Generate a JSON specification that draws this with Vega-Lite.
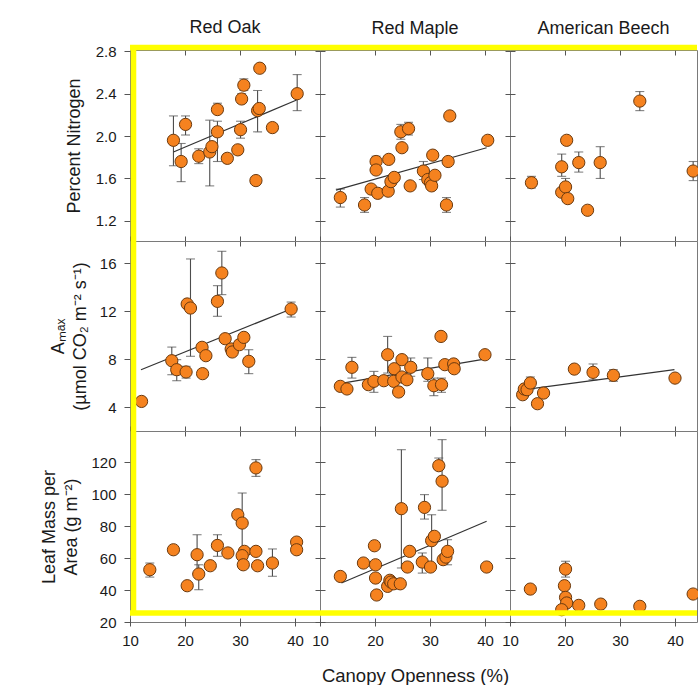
{
  "$schema": "https://vega.github.io/schema/vega-lite/v6.json",
  "background": "white",
  "padding": {"left": 40, "top": 18, "right": 0, "bottom": 0},
  "bounds": "flush",
  "align": "each",
  "spacing": 0,
  "columns": 3,
  "config": {
    "font": "Liberation Sans",
    "view": {"stroke": "#7a7a7a", "strokeWidth": 1, "fill": null},
    "axis": {"domain": false, "grid": false, "tickColor": "#555", "tickWidth": 1, "tickCount": 12, "labelFont": "Liberation Sans", "labelFontSize": 15, "labelColor": "#1a1a1a", "titleFont": "Liberation Sans", "titleFontSize": 18, "titleFontWeight": "normal", "titleColor": "#1a1a1a", "labelOverlap": false, "labelBound": false, "titleLineHeight": 22},
    "title": {"font": "Liberation Sans", "fontSize": 18, "fontWeight": "normal", "color": "#1a1a1a", "offset": 7, "anchor": "middle"}
  },
  "datasets": {
    "oakN": [
      {"x": 17.9, "y": 1.96, "lo": 1.72, "hi": 2.19},
      {"x": 20.1, "y": 2.11, "lo": 2.01, "hi": 2.19},
      {"x": 19.3, "y": 1.76, "lo": 1.57, "hi": 1.93},
      {"x": 22.5, "y": 1.81, "lo": 1.74, "hi": 1.88},
      {"x": 24.5, "y": 1.85, "lo": 1.53, "hi": 2.15},
      {"x": 24.9, "y": 1.9},
      {"x": 25.9, "y": 2.25, "lo": 2.22, "hi": 2.31},
      {"x": 25.9, "y": 2.04, "lo": 1.76, "hi": 2.14},
      {"x": 27.7, "y": 1.79, "lo": 1.75, "hi": 1.83},
      {"x": 29.6, "y": 1.87, "lo": 1.83, "hi": 1.91},
      {"x": 30.1, "y": 2.06, "lo": 1.98, "hi": 2.14},
      {"x": 30.3, "y": 2.35, "lo": 2.31, "hi": 2.4},
      {"x": 30.7, "y": 2.48, "lo": 2.43, "hi": 2.54},
      {"x": 32.9, "y": 1.58},
      {"x": 33.2, "y": 2.24, "lo": 2.04, "hi": 2.43},
      {"x": 33.5, "y": 2.26},
      {"x": 33.6, "y": 2.64, "lo": 2.61, "hi": 2.67},
      {"x": 35.9, "y": 2.08},
      {"x": 40.4, "y": 2.4, "lo": 2.24, "hi": 2.58}
    ],
    "mapleN": [
      {"x": 13.7, "y": 1.42, "lo": 1.33, "hi": 1.5},
      {"x": 18.1, "y": 1.35, "lo": 1.28, "hi": 1.42},
      {"x": 19.3, "y": 1.5},
      {"x": 20.2, "y": 1.76, "lo": 1.73, "hi": 1.81},
      {"x": 20.2, "y": 1.68},
      {"x": 20.5, "y": 1.46},
      {"x": 22.4, "y": 1.48},
      {"x": 22.5, "y": 1.78},
      {"x": 22.9, "y": 1.57},
      {"x": 23.5, "y": 1.61},
      {"x": 24.7, "y": 2.04, "lo": 1.97, "hi": 2.11},
      {"x": 24.9, "y": 1.89},
      {"x": 26.1, "y": 2.07, "lo": 2.01, "hi": 2.13},
      {"x": 26.4, "y": 1.53},
      {"x": 28.8, "y": 1.67, "lo": 1.59, "hi": 1.76},
      {"x": 29.6, "y": 1.59},
      {"x": 30.1, "y": 1.56},
      {"x": 30.3, "y": 1.53},
      {"x": 30.5, "y": 1.82},
      {"x": 30.9, "y": 1.63},
      {"x": 33.0, "y": 1.35, "lo": 1.28, "hi": 1.42},
      {"x": 33.3, "y": 1.76},
      {"x": 33.6, "y": 2.19},
      {"x": 40.5, "y": 1.96}
    ],
    "beechN": [
      {"x": 13.9, "y": 1.56, "lo": 1.51, "hi": 1.62},
      {"x": 19.4, "y": 1.71, "lo": 1.62, "hi": 1.83},
      {"x": 20.3, "y": 1.96},
      {"x": 19.4, "y": 1.47},
      {"x": 20.1, "y": 1.52, "lo": 1.44, "hi": 1.6},
      {"x": 20.5, "y": 1.41},
      {"x": 22.5, "y": 1.75, "lo": 1.66, "hi": 1.85},
      {"x": 24.1, "y": 1.3},
      {"x": 26.4, "y": 1.75, "lo": 1.6, "hi": 1.9},
      {"x": 33.6, "y": 2.33, "lo": 2.24, "hi": 2.42},
      {"x": 43.3, "y": 1.67, "lo": 1.58, "hi": 1.76}
    ],
    "oakA": [
      {"x": 12.1, "y": 4.47},
      {"x": 17.6, "y": 7.87, "lo": 6.7, "hi": 9.01},
      {"x": 18.5, "y": 7.12, "lo": 6.2, "hi": 7.96},
      {"x": 20.2, "y": 6.93, "lo": 6.42, "hi": 7.4},
      {"x": 20.4, "y": 12.61},
      {"x": 21.0, "y": 12.27, "lo": 8.24, "hi": 16.37},
      {"x": 23.1, "y": 8.99},
      {"x": 23.2, "y": 6.79},
      {"x": 23.8, "y": 8.29},
      {"x": 25.9, "y": 12.83, "lo": 11.58, "hi": 14.14},
      {"x": 26.7, "y": 15.2, "lo": 13.39, "hi": 17.01},
      {"x": 27.3, "y": 9.71},
      {"x": 28.4, "y": 8.85},
      {"x": 28.6, "y": 8.6},
      {"x": 29.9, "y": 9.21},
      {"x": 30.7, "y": 9.82},
      {"x": 31.6, "y": 7.82, "lo": 6.79, "hi": 8.79},
      {"x": 39.3, "y": 12.19, "lo": 11.52, "hi": 12.77}
    ],
    "mapleA": [
      {"x": 13.7, "y": 5.73},
      {"x": 14.9, "y": 5.51},
      {"x": 15.8, "y": 7.32, "lo": 6.42, "hi": 8.15},
      {"x": 18.8, "y": 5.87},
      {"x": 19.8, "y": 6.15, "lo": 5.23, "hi": 6.98},
      {"x": 21.6, "y": 6.2},
      {"x": 22.3, "y": 8.37, "lo": 6.84, "hi": 9.9},
      {"x": 23.4, "y": 6.15},
      {"x": 23.5, "y": 7.2},
      {"x": 24.3, "y": 5.26},
      {"x": 24.9, "y": 6.51},
      {"x": 24.9, "y": 7.96},
      {"x": 25.8, "y": 6.28},
      {"x": 26.5, "y": 7.32, "lo": 6.57, "hi": 8.1},
      {"x": 29.6, "y": 6.79, "lo": 6.15, "hi": 8.1},
      {"x": 30.7, "y": 5.78, "lo": 4.95, "hi": 6.42},
      {"x": 32.0, "y": 9.9},
      {"x": 32.1, "y": 5.87, "lo": 5.23, "hi": 6.42},
      {"x": 32.7, "y": 7.54},
      {"x": 34.3, "y": 7.6},
      {"x": 34.4, "y": 7.2},
      {"x": 40.0, "y": 8.37}
    ],
    "beechA": [
      {"x": 12.3, "y": 5.03},
      {"x": 12.6, "y": 5.51},
      {"x": 13.1, "y": 5.45},
      {"x": 13.7, "y": 6.01, "lo": 5.51, "hi": 6.51},
      {"x": 15.0, "y": 4.28},
      {"x": 16.1, "y": 5.17},
      {"x": 21.7, "y": 7.17},
      {"x": 25.1, "y": 6.9, "lo": 6.28, "hi": 7.6},
      {"x": 28.8, "y": 6.65, "lo": 6.15, "hi": 7.12},
      {"x": 40.0, "y": 6.42}
    ],
    "oakL": [
      {"x": 13.6, "y": 52.7, "lo": 48.1, "hi": 56.9},
      {"x": 17.9, "y": 65.2},
      {"x": 20.4, "y": 42.7},
      {"x": 22.2, "y": 62.1, "lo": 50.2, "hi": 74.6},
      {"x": 22.5, "y": 50.0, "lo": 40.2, "hi": 55.8},
      {"x": 24.6, "y": 55.2},
      {"x": 25.9, "y": 67.9, "lo": 61.1, "hi": 74.6},
      {"x": 27.8, "y": 63.2},
      {"x": 29.6, "y": 87.1},
      {"x": 30.4, "y": 81.9, "lo": 54.8, "hi": 100.7},
      {"x": 30.8, "y": 64.2},
      {"x": 30.4, "y": 61.5},
      {"x": 30.6, "y": 55.8},
      {"x": 32.9, "y": 116.4, "lo": 111.1, "hi": 121.6},
      {"x": 32.9, "y": 64.2},
      {"x": 33.2, "y": 55.2},
      {"x": 35.9, "y": 56.9, "lo": 48.6, "hi": 65.7},
      {"x": 40.3, "y": 70.0},
      {"x": 40.3, "y": 65.2}
    ],
    "mapleL": [
      {"x": 13.7, "y": 48.5},
      {"x": 17.9, "y": 56.9},
      {"x": 19.9, "y": 67.7},
      {"x": 20.1, "y": 55.8},
      {"x": 20.1, "y": 47.5},
      {"x": 20.3, "y": 36.9},
      {"x": 22.3, "y": 42.3},
      {"x": 22.7, "y": 46.1},
      {"x": 22.9, "y": 45.0},
      {"x": 23.4, "y": 43.9},
      {"x": 24.6, "y": 43.9},
      {"x": 24.8, "y": 90.9, "lo": 53.8, "hi": 127.8},
      {"x": 25.9, "y": 54.4},
      {"x": 26.3, "y": 64.2},
      {"x": 28.6, "y": 57.5, "lo": 50.6, "hi": 63.2},
      {"x": 29.0, "y": 91.7, "lo": 84.4, "hi": 99.7},
      {"x": 30.1, "y": 54.4},
      {"x": 30.3, "y": 70.9, "lo": 53.8, "hi": 87.1},
      {"x": 30.8, "y": 73.6},
      {"x": 31.6, "y": 117.8, "lo": 115.3, "hi": 122.6},
      {"x": 32.2, "y": 108.1, "lo": 89.9, "hi": 134.1},
      {"x": 32.4, "y": 59.0},
      {"x": 32.9, "y": 60.6},
      {"x": 33.2, "y": 64.2, "lo": 55.8, "hi": 71.5},
      {"x": 40.3, "y": 54.4}
    ],
    "beechL": [
      {"x": 13.7, "y": 40.6},
      {"x": 20.1, "y": 53.1, "lo": 48.1, "hi": 58.0},
      {"x": 19.9, "y": 42.7},
      {"x": 20.1, "y": 35.4},
      {"x": 20.3, "y": 31.9},
      {"x": 19.4, "y": 27.7},
      {"x": 22.5, "y": 30.4},
      {"x": 26.5, "y": 31.2},
      {"x": 33.6, "y": 29.8},
      {"x": 43.3, "y": 37.5}
    ],
    "fitOakN": [{"x": 17.9, "y": 1.85}, {"x": 40.3, "y": 2.34}],
    "fitMapleN": [{"x": 12.9, "y": 1.49}, {"x": 40.3, "y": 1.89}],
    "fitOakA": [{"x": 12.0, "y": 7.12}, {"x": 39.3, "y": 12.19}],
    "fitMapleA": [{"x": 14.1, "y": 6.0}, {"x": 39.9, "y": 8.01}],
    "fitBeechA": [{"x": 12.6, "y": 5.45}, {"x": 39.9, "y": 7.12}],
    "fitMapleL": [{"x": 13.9, "y": 44.4}, {"x": 40.3, "y": 83.0}]
  },
  "concat": [
    {
      "width": 190, "height": 191, "title": "Red Oak",
      "data": {"name": "oakN"},
      "resolve": {"axis": {"x": "independent"}},
      "layer": [
        {"mark": {"type": "rule", "color": "#4d4d4d", "strokeWidth": 1.1},
         "encoding": {"x": {"field": "x", "type": "quantitative", "scale": {"domain": [10, 44.55], "nice": false, "zero": false}, "axis": {"orient": "top", "values": [20, 30, 40], "labels": false, "title": null, "tickSize": 5, "offset": -5}},
                      "y": {"field": "lo", "type": "quantitative", "scale": {"domain": [1.01, 2.812], "nice": false, "zero": false}, "axis": {"values": [1.2, 1.6, 2.0, 2.4, 2.8], "format": ".1f", "title": "Percent Nitrogen", "tickSize": 6, "labelPadding": 8, "titlePadding": 12}},
                      "y2": {"field": "hi"}}},
        {"mark": {"type": "tick", "orient": "horizontal", "size": 9, "thickness": 1.1, "color": "#4d4d4d"},
         "encoding": {"x": {"field": "x", "type": "quantitative", "axis": null}, "y": {"field": "lo", "type": "quantitative"}}},
        {"mark": {"type": "tick", "orient": "horizontal", "size": 9, "thickness": 1.1, "color": "#4d4d4d"},
         "encoding": {"x": {"field": "x", "type": "quantitative", "axis": null}, "y": {"field": "hi", "type": "quantitative"}}},
        {"data": {"name": "fitOakN"}, "mark": {"type": "line", "color": "#333", "strokeWidth": 1.2},
         "encoding": {"x": {"field": "x", "type": "quantitative", "axis": null}, "y": {"field": "y", "type": "quantitative"}}},
        {"mark": {"type": "circle", "size": 150, "fill": "#f5821f", "stroke": "#6b3a0f", "strokeWidth": 1, "opacity": 1, "fillOpacity": 1},
         "encoding": {"x": {"field": "x", "type": "quantitative", "axis": {"values": [10, 20, 30, 40], "labels": false, "title": null, "tickSize": 10, "offset": -5}}, "y": {"field": "y", "type": "quantitative"}}},
        {"data": {"values": [{}]}, "mark": {"type": "rule", "color": "#ffff00", "strokeWidth": 5.5},
         "encoding": {"y": {"datum": 2.836, "type": "quantitative"}}},
        {"data": {"values": [{}]}, "mark": {"type": "rule", "color": "#ffff00", "strokeWidth": 5.5},
         "encoding": {"x": {"datum": 10.64, "type": "quantitative", "axis": null}, "y": {"datum": 1.01, "type": "quantitative"}, "y2": {"datum": 2.836}}}
      ]
    },
    {
      "width": 190, "height": 191, "title": "Red Maple",
      "data": {"name": "mapleN"},
      "resolve": {"axis": {"x": "independent"}},
      "layer": [
        {"mark": {"type": "rule", "color": "#4d4d4d", "strokeWidth": 1.1},
         "encoding": {"x": {"field": "x", "type": "quantitative", "scale": {"domain": [10, 44.55], "nice": false, "zero": false}, "axis": {"orient": "top", "values": [20, 30, 40], "labels": false, "title": null, "tickSize": 5, "offset": -5}},
                      "y": {"field": "lo", "type": "quantitative", "scale": {"domain": [1.01, 2.812], "nice": false, "zero": false}, "axis": {"values": [1.2, 1.6, 2.0, 2.4, 2.8], "labels": false, "title": null, "tickSize": 10, "offset": -5}},
                      "y2": {"field": "hi"}}},
        {"mark": {"type": "tick", "orient": "horizontal", "size": 9, "thickness": 1.1, "color": "#4d4d4d"},
         "encoding": {"x": {"field": "x", "type": "quantitative", "axis": null}, "y": {"field": "lo", "type": "quantitative"}}},
        {"mark": {"type": "tick", "orient": "horizontal", "size": 9, "thickness": 1.1, "color": "#4d4d4d"},
         "encoding": {"x": {"field": "x", "type": "quantitative", "axis": null}, "y": {"field": "hi", "type": "quantitative"}}},
        {"data": {"name": "fitMapleN"}, "mark": {"type": "line", "color": "#333", "strokeWidth": 1.2},
         "encoding": {"x": {"field": "x", "type": "quantitative", "axis": null}, "y": {"field": "y", "type": "quantitative"}}},
        {"mark": {"type": "circle", "size": 150, "fill": "#f5821f", "stroke": "#6b3a0f", "strokeWidth": 1, "opacity": 1, "fillOpacity": 1},
         "encoding": {"x": {"field": "x", "type": "quantitative", "axis": {"values": [10, 20, 30, 40], "labels": false, "title": null, "tickSize": 10, "offset": -5}}, "y": {"field": "y", "type": "quantitative"}}},
        {"data": {"values": [{}]}, "mark": {"type": "rule", "color": "#ffff00", "strokeWidth": 5.5},
         "encoding": {"y": {"datum": 2.836, "type": "quantitative"}}}
      ]
    },
    {
      "width": 187, "height": 191, "title": "American Beech",
      "data": {"name": "beechN"},
      "resolve": {"axis": {"x": "independent"}},
      "layer": [
        {"mark": {"type": "rule", "color": "#4d4d4d", "strokeWidth": 1.1},
         "encoding": {"x": {"field": "x", "type": "quantitative", "scale": {"domain": [10, 44.0], "nice": false, "zero": false}, "axis": {"orient": "top", "values": [20, 30, 40], "labels": false, "title": null, "tickSize": 5, "offset": -5}},
                      "y": {"field": "lo", "type": "quantitative", "scale": {"domain": [1.01, 2.812], "nice": false, "zero": false}, "axis": {"values": [1.2, 1.6, 2.0, 2.4, 2.8], "labels": false, "title": null, "tickSize": 10, "offset": -5}},
                      "y2": {"field": "hi"}}},
        {"mark": {"type": "tick", "orient": "horizontal", "size": 9, "thickness": 1.1, "color": "#4d4d4d"},
         "encoding": {"x": {"field": "x", "type": "quantitative", "axis": null}, "y": {"field": "lo", "type": "quantitative"}}},
        {"mark": {"type": "tick", "orient": "horizontal", "size": 9, "thickness": 1.1, "color": "#4d4d4d"},
         "encoding": {"x": {"field": "x", "type": "quantitative", "axis": null}, "y": {"field": "hi", "type": "quantitative"}}},
        {"mark": {"type": "circle", "size": 150, "fill": "#f5821f", "stroke": "#6b3a0f", "strokeWidth": 1, "opacity": 1, "fillOpacity": 1},
         "encoding": {"x": {"field": "x", "type": "quantitative", "axis": {"values": [10, 20, 30, 40], "labels": false, "title": null, "tickSize": 10, "offset": -5}}, "y": {"field": "y", "type": "quantitative"}}},
        {"data": {"values": [{}]}, "mark": {"type": "rule", "color": "#ffff00", "strokeWidth": 5.5},
         "encoding": {"y": {"datum": 2.836, "type": "quantitative"}}}
      ]
    },
    {
      "width": 190, "height": 190,
      "data": {"name": "oakA"},
      "layer": [
        {"mark": {"type": "rule", "color": "#4d4d4d", "strokeWidth": 1.1},
         "encoding": {"x": {"field": "x", "type": "quantitative", "scale": {"domain": [10, 44.55], "nice": false, "zero": false}, "axis": {"values": [10, 20, 30, 40], "labels": false, "title": null, "tickSize": 10, "offset": -5}},
                      "y": {"field": "lo", "type": "quantitative", "scale": {"domain": [2.0, 17.87], "nice": false, "zero": false}, "axis": {"values": [4, 8, 12, 16], "title": ["Aₘₐₓ", "(µmol CO₂ m⁻² s⁻¹)"], "tickSize": 6, "labelPadding": 8, "titlePadding": 10}},
                      "y2": {"field": "hi"}}},
        {"mark": {"type": "tick", "orient": "horizontal", "size": 9, "thickness": 1.1, "color": "#4d4d4d"},
         "encoding": {"x": {"field": "x", "type": "quantitative"}, "y": {"field": "lo", "type": "quantitative"}}},
        {"mark": {"type": "tick", "orient": "horizontal", "size": 9, "thickness": 1.1, "color": "#4d4d4d"},
         "encoding": {"x": {"field": "x", "type": "quantitative"}, "y": {"field": "hi", "type": "quantitative"}}},
        {"data": {"name": "fitOakA"}, "mark": {"type": "line", "color": "#333", "strokeWidth": 1.2},
         "encoding": {"x": {"field": "x", "type": "quantitative"}, "y": {"field": "y", "type": "quantitative"}}},
        {"mark": {"type": "circle", "size": 150, "fill": "#f5821f", "stroke": "#6b3a0f", "strokeWidth": 1, "opacity": 1, "fillOpacity": 1},
         "encoding": {"x": {"field": "x", "type": "quantitative"}, "y": {"field": "y", "type": "quantitative"}}},
        {"data": {"values": [{}]}, "mark": {"type": "rule", "color": "#ffff00", "strokeWidth": 5.5},
         "encoding": {"x": {"datum": 10.64, "type": "quantitative"}}}
      ]
    },
    {
      "width": 190, "height": 190,
      "data": {"name": "mapleA"},
      "layer": [
        {"mark": {"type": "rule", "color": "#4d4d4d", "strokeWidth": 1.1},
         "encoding": {"x": {"field": "x", "type": "quantitative", "scale": {"domain": [10, 44.55], "nice": false, "zero": false}, "axis": {"values": [10, 20, 30, 40], "labels": false, "title": null, "tickSize": 10, "offset": -5}},
                      "y": {"field": "lo", "type": "quantitative", "scale": {"domain": [2.0, 17.87], "nice": false, "zero": false}, "axis": {"values": [4, 8, 12, 16], "labels": false, "title": null, "tickSize": 10, "offset": -5}},
                      "y2": {"field": "hi"}}},
        {"mark": {"type": "tick", "orient": "horizontal", "size": 9, "thickness": 1.1, "color": "#4d4d4d"},
         "encoding": {"x": {"field": "x", "type": "quantitative"}, "y": {"field": "lo", "type": "quantitative"}}},
        {"mark": {"type": "tick", "orient": "horizontal", "size": 9, "thickness": 1.1, "color": "#4d4d4d"},
         "encoding": {"x": {"field": "x", "type": "quantitative"}, "y": {"field": "hi", "type": "quantitative"}}},
        {"data": {"name": "fitMapleA"}, "mark": {"type": "line", "color": "#333", "strokeWidth": 1.2},
         "encoding": {"x": {"field": "x", "type": "quantitative"}, "y": {"field": "y", "type": "quantitative"}}},
        {"mark": {"type": "circle", "size": 150, "fill": "#f5821f", "stroke": "#6b3a0f", "strokeWidth": 1, "opacity": 1, "fillOpacity": 1},
         "encoding": {"x": {"field": "x", "type": "quantitative"}, "y": {"field": "y", "type": "quantitative"}}}
      ]
    },
    {
      "width": 187, "height": 190,
      "data": {"name": "beechA"},
      "layer": [
        {"mark": {"type": "rule", "color": "#4d4d4d", "strokeWidth": 1.1},
         "encoding": {"x": {"field": "x", "type": "quantitative", "scale": {"domain": [10, 44.0], "nice": false, "zero": false}, "axis": {"values": [10, 20, 30, 40], "labels": false, "title": null, "tickSize": 10, "offset": -5}},
                      "y": {"field": "lo", "type": "quantitative", "scale": {"domain": [2.0, 17.87], "nice": false, "zero": false}, "axis": {"values": [4, 8, 12, 16], "labels": false, "title": null, "tickSize": 10, "offset": -5}},
                      "y2": {"field": "hi"}}},
        {"mark": {"type": "tick", "orient": "horizontal", "size": 9, "thickness": 1.1, "color": "#4d4d4d"},
         "encoding": {"x": {"field": "x", "type": "quantitative"}, "y": {"field": "lo", "type": "quantitative"}}},
        {"mark": {"type": "tick", "orient": "horizontal", "size": 9, "thickness": 1.1, "color": "#4d4d4d"},
         "encoding": {"x": {"field": "x", "type": "quantitative"}, "y": {"field": "hi", "type": "quantitative"}}},
        {"data": {"name": "fitBeechA"}, "mark": {"type": "line", "color": "#333", "strokeWidth": 1.2},
         "encoding": {"x": {"field": "x", "type": "quantitative"}, "y": {"field": "y", "type": "quantitative"}}},
        {"mark": {"type": "circle", "size": 150, "fill": "#f5821f", "stroke": "#6b3a0f", "strokeWidth": 1, "opacity": 1, "fillOpacity": 1},
         "encoding": {"x": {"field": "x", "type": "quantitative"}, "y": {"field": "y", "type": "quantitative"}}}
      ]
    },
    {
      "width": 190, "height": 191,
      "data": {"name": "oakL"},
      "layer": [
        {"mark": {"type": "rule", "color": "#4d4d4d", "strokeWidth": 1.1},
         "encoding": {"x": {"field": "x", "type": "quantitative", "scale": {"domain": [10, 44.55], "nice": false, "zero": false}, "axis": {"values": [10, 20, 30, 40], "title": null, "tickSize": 8, "offset": -4, "labelPadding": 7, "labelFlush": false}},
                      "y": {"field": "lo", "type": "quantitative", "scale": {"domain": [20, 139.5], "nice": false, "zero": false}, "axis": {"values": [20, 40, 60, 80, 100, 120], "tickCount": 12, "title": ["Leaf Mass per", "Area (g m⁻²)"], "tickSize": 6, "labelPadding": 8, "titlePadding": 10}},
                      "y2": {"field": "hi"}}},
        {"mark": {"type": "tick", "orient": "horizontal", "size": 9, "thickness": 1.1, "color": "#4d4d4d"},
         "encoding": {"x": {"field": "x", "type": "quantitative"}, "y": {"field": "lo", "type": "quantitative"}}},
        {"mark": {"type": "tick", "orient": "horizontal", "size": 9, "thickness": 1.1, "color": "#4d4d4d"},
         "encoding": {"x": {"field": "x", "type": "quantitative"}, "y": {"field": "hi", "type": "quantitative"}}},
        {"mark": {"type": "circle", "size": 150, "fill": "#f5821f", "stroke": "#6b3a0f", "strokeWidth": 1, "opacity": 1, "fillOpacity": 1},
         "encoding": {"x": {"field": "x", "type": "quantitative"}, "y": {"field": "y", "type": "quantitative"}}},
        {"data": {"values": [{}]}, "mark": {"type": "rule", "color": "#ffff00", "strokeWidth": 5.5},
         "encoding": {"y": {"datum": 25.6, "type": "quantitative"}}},
        {"data": {"values": [{}]}, "mark": {"type": "rule", "color": "#ffff00", "strokeWidth": 5.5},
         "encoding": {"x": {"datum": 10.64, "type": "quantitative"}, "y": {"datum": 25.6, "type": "quantitative"}, "y2": {"datum": 139.5}}}
      ]
    },
    {
      "width": 190, "height": 191,
      "data": {"name": "mapleL"},
      "layer": [
        {"mark": {"type": "rule", "color": "#4d4d4d", "strokeWidth": 1.1},
         "encoding": {"x": {"field": "x", "type": "quantitative", "scale": {"domain": [10, 44.55], "nice": false, "zero": false}, "axis": {"values": [10, 20, 30, 40], "title": "Canopy Openness (%)", "titleFontSize": 18.5, "titlePadding": 18, "tickSize": 8, "offset": -4, "labelPadding": 7, "labelFlush": false}},
                      "y": {"field": "lo", "type": "quantitative", "scale": {"domain": [20, 139.5], "nice": false, "zero": false}, "axis": {"values": [20, 40, 60, 80, 100, 120], "tickCount": 12, "labels": false, "title": null, "tickSize": 10, "offset": -5}},
                      "y2": {"field": "hi"}}},
        {"mark": {"type": "tick", "orient": "horizontal", "size": 9, "thickness": 1.1, "color": "#4d4d4d"},
         "encoding": {"x": {"field": "x", "type": "quantitative"}, "y": {"field": "lo", "type": "quantitative"}}},
        {"mark": {"type": "tick", "orient": "horizontal", "size": 9, "thickness": 1.1, "color": "#4d4d4d"},
         "encoding": {"x": {"field": "x", "type": "quantitative"}, "y": {"field": "hi", "type": "quantitative"}}},
        {"data": {"name": "fitMapleL"}, "mark": {"type": "line", "color": "#333", "strokeWidth": 1.2},
         "encoding": {"x": {"field": "x", "type": "quantitative"}, "y": {"field": "y", "type": "quantitative"}}},
        {"mark": {"type": "circle", "size": 150, "fill": "#f5821f", "stroke": "#6b3a0f", "strokeWidth": 1, "opacity": 1, "fillOpacity": 1},
         "encoding": {"x": {"field": "x", "type": "quantitative"}, "y": {"field": "y", "type": "quantitative"}}},
        {"data": {"values": [{}]}, "mark": {"type": "rule", "color": "#ffff00", "strokeWidth": 5.5},
         "encoding": {"y": {"datum": 25.6, "type": "quantitative"}}}
      ]
    },
    {
      "width": 187, "height": 191,
      "data": {"name": "beechL"},
      "layer": [
        {"mark": {"type": "rule", "color": "#4d4d4d", "strokeWidth": 1.1},
         "encoding": {"x": {"field": "x", "type": "quantitative", "scale": {"domain": [10, 44.0], "nice": false, "zero": false}, "axis": {"values": [10, 20, 30, 40], "title": null, "tickSize": 8, "offset": -4, "labelPadding": 7, "labelFlush": false}},
                      "y": {"field": "lo", "type": "quantitative", "scale": {"domain": [20, 139.5], "nice": false, "zero": false}, "axis": {"values": [20, 40, 60, 80, 100, 120], "tickCount": 12, "labels": false, "title": null, "tickSize": 10, "offset": -5}},
                      "y2": {"field": "hi"}}},
        {"mark": {"type": "tick", "orient": "horizontal", "size": 9, "thickness": 1.1, "color": "#4d4d4d"},
         "encoding": {"x": {"field": "x", "type": "quantitative"}, "y": {"field": "lo", "type": "quantitative"}}},
        {"mark": {"type": "tick", "orient": "horizontal", "size": 9, "thickness": 1.1, "color": "#4d4d4d"},
         "encoding": {"x": {"field": "x", "type": "quantitative"}, "y": {"field": "hi", "type": "quantitative"}}},
        {"mark": {"type": "circle", "size": 150, "fill": "#f5821f", "stroke": "#6b3a0f", "strokeWidth": 1, "opacity": 1, "fillOpacity": 1},
         "encoding": {"x": {"field": "x", "type": "quantitative"}, "y": {"field": "y", "type": "quantitative"}}},
        {"data": {"values": [{}]}, "mark": {"type": "rule", "color": "#ffff00", "strokeWidth": 5.5},
         "encoding": {"y": {"datum": 25.6, "type": "quantitative"}}}
      ]
    }
  ]
}
